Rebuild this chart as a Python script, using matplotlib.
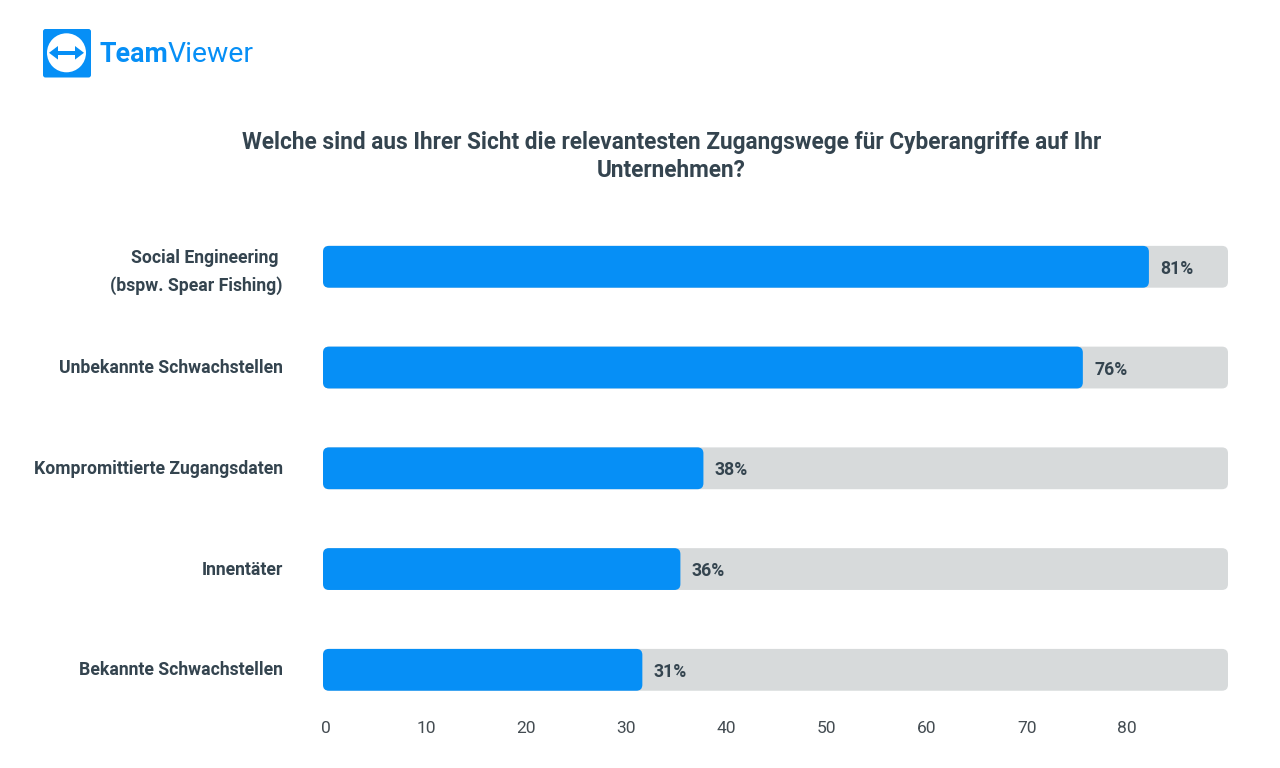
#!/usr/bin/env python3
'''TeamViewer survey chart: relevant access routes for cyber attacks.'''

import matplotlib
matplotlib.use('Agg')
import matplotlib.pyplot as plt
from matplotlib.patches import FancyBboxPatch, Circle, Polygon, Rectangle
from matplotlib.transforms import ScaledTranslation

W, H = 1280, 768
BLUE = '#068ff6'
GRAY = '#d7dadb'
DARK = '#34444f'

categories = ['Social Engineering \n(bspw. Spear Fishing)', 'Unbekannte Schwachstellen',
              'Kompromittierte Zugangsdaten', 'Innentäter', 'Bekannte Schwachstellen']
bar_ends = [82.2, 75.6, 37.7, 35.4, 31.6]
percent_labels = ['81%', '76%', '38%', '36%', '31%']
track_end = 90.1
x_ticks = [0, 10, 20, 30, 40, 50, 60, 70, 80]

plt.rcParams['font.family'] = ['Roboto', 'DejaVu Sans']


def rounded_bar(ax, end, y, color, aspect):
    '''Draw one rounded horizontal bar from the left edge of the axes.'''
    start = -0.3
    h = 0.415
    pad = 0.6
    box = FancyBboxPatch((start + pad, y - h / 2 + pad * aspect), end - start - 2 * pad,
                         h - 2 * pad * aspect, boxstyle='round,pad=%f,rounding_size=%f' % (pad, pad),
                         mutation_aspect=aspect, fc=color, ec='none', zorder=2)
    ax.add_patch(box)


def draw_logo(fig):
    '''Draw the logo in an overlay axes using pixel coordinates.'''
    ax = fig.add_axes([0, 0, 1, 1])
    ax.set_xlim(0, W)
    ax.set_ylim(H, 0)
    ax.axis('off')
    ax.patch.set_alpha(0)
    ax.add_patch(FancyBboxPatch((45, 31), 44, 44.5, boxstyle='round,pad=2,rounding_size=2.5', fc=BLUE, ec='none'))
    ax.add_patch(Circle((66.5, 52.8), 19.5, fc='white', ec='none'))
    ax.add_patch(Rectangle((55, 50.8), 23, 4, fc=BLUE, ec='none'))
    ax.add_patch(Polygon([[49, 52.8], [58, 46], [58, 59.6]], fc=BLUE, ec='none'))
    ax.add_patch(Polygon([[84, 52.8], [75, 46], [75, 59.6]], fc=BLUE, ec='none'))
    ax.text(100, 54, 'Team', color=BLUE, fontsize=19.3, fontweight='bold', va='center', ha='left')
    ax.text(167.5, 54, 'Viewer', color=BLUE, fontsize=20.4, fontweight='normal', va='center', ha='left')


def make_plot():
    fig = plt.figure(figsize=(W / 100, H / 100), dpi=100)

    left, right = 323, 1228
    top, bottom = 216.4, 720.2
    ax = fig.add_axes([left / W, 1 - bottom / H, (right - left) / W, (bottom - top) / H])
    ax.set_xlim(-0.3, track_end)
    ax.set_ylim(4.5, -0.5)

    # size of one data unit on y relative to x, keeps the corners round
    aspect = ((right - left) / (track_end + 0.3)) / ((bottom - top) / 5)

    positions = list(range(len(categories)))
    for y, end, label in zip(positions, bar_ends, percent_labels):
        rounded_bar(ax, track_end, y, GRAY, aspect)
        rounded_bar(ax, end, y, BLUE, aspect)
        ax.annotate(label, (end, y), xytext=(11.5, -2), textcoords='offset pixels', color=DARK,
                    fontsize=12.7, fontweight='bold', va='center', ha='left', zorder=3)

    ax.set_yticks(positions)
    ax.set_yticklabels(categories, color=DARK, fontsize=12.7, fontweight='bold', linespacing=1.65)
    ax.set_xticks(x_ticks)
    ax.set_xticklabels([str(t) for t in x_ticks], color='#444c52', fontsize=12.5)
    ax.tick_params(axis='y', length=0, pad=29)
    ax.tick_params(axis='x', length=0, pad=0.5)
    for s in ax.spines.values():
        s.set_visible(False)

    # labels sit a little higher than the bar centres in the original
    nudge = ScaledTranslation(0, 1.5 / 100, fig.dpi_scale_trans)
    for tick_label in ax.get_yticklabels():
        tick_label.set_transform(tick_label.get_transform() + nudge)

    fig.text(671.5 / W, 1 - 156.5 / H, 'Welche sind aus Ihrer Sicht die relevantesten Zugangswege für Cyberangriffe auf Ihr\nUnternehmen?',
             color=DARK, fontsize=16.3, fontweight='bold', ha='center', va='center', linespacing=1.25)

    draw_logo(fig)
    fig.savefig('out.png', dpi=100, facecolor='white')


if __name__ == '__main__':
    make_plot()
